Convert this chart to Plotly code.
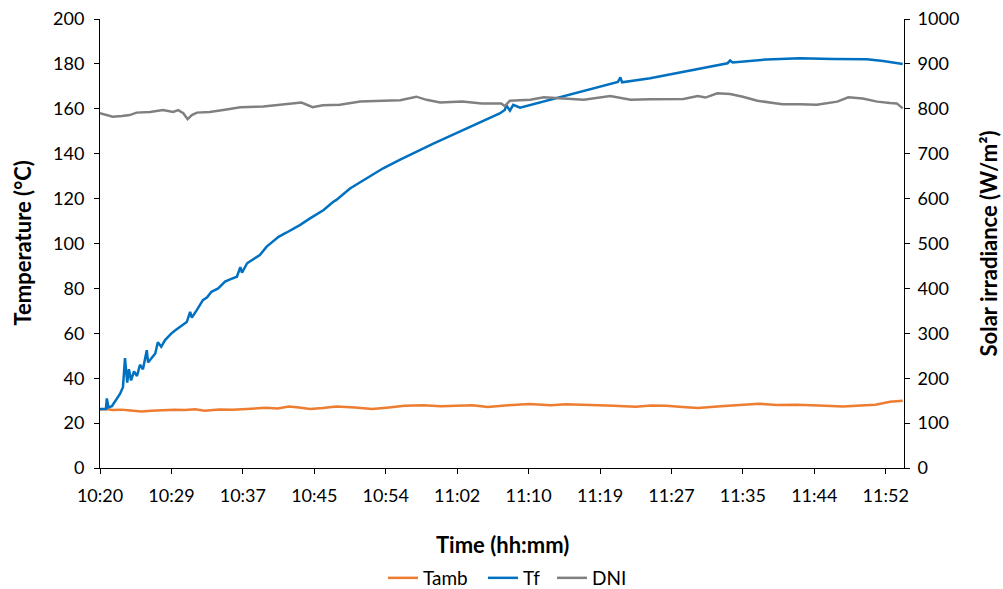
import plotly.graph_objects as go

# Time in minutes after 10:20 (approx. start 10:20:30)
tick_text = ["10:20", "10:29", "10:37", "10:45", "10:54", "11:02",
             "11:10", "11:19", "11:27", "11:35", "11:44", "11:52"]
tick_step_min = 8.4

tf_time = [0, 0.7, 0.8, 1.0, 1.4, 2.0, 2.35, 2.7, 2.94, 3.2, 3.4, 3.65, 4.0, 4.35, 4.7,
           5.05, 5.5, 5.65, 6.0, 6.5, 6.8, 7.2, 7.65, 8.4, 8.9, 9.4, 10.2, 10.6, 10.8,
           11.4, 12.1, 12.6, 13.1, 13.9, 14.7, 15.3, 16.1, 16.5, 16.7, 17.3, 18.0, 18.8,
           19.6, 20.2, 21.0, 21.9, 22.9, 23.5, 24.7, 26.3, 27.4, 27.8, 29.4, 31.4, 33.3,
           35.3, 37.2, 39.2, 41.2, 43.1, 45.0, 47.0, 47.6, 47.8, 48.2, 48.6, 49.4, 50.9,
           53.3, 55.9, 58.4, 60.9, 61.2, 61.4, 64.7, 68.6, 71.7, 73.8, 74.1, 74.4, 78.4,
           82.3, 86.2, 90.2, 92.1, 94.4]
tf_vals = [26.3, 26.3, 31, 27, 27.5, 31, 33, 36, 49, 38, 44, 39, 43, 41, 46,
           44, 52.5, 47, 48.5, 51, 56, 54, 57, 60, 61.5, 63, 65, 69.5, 67,
           70.4, 74.8, 76, 78.5, 80, 83, 84, 85.2, 89.5, 87, 91.2, 93, 94.9,
           98.6, 100.5, 103, 104.8, 106.8, 108.2, 111.2, 114.9, 118.5, 119.4, 124.5, 129, 133.5,
           137.4, 141, 144.5, 147.9, 151.2, 154.6, 157.9, 159.5, 161.5, 159.2, 161.8, 160.5, 162,
           164.2, 166.7, 169.5, 172, 174, 171.8, 173.6, 176.5, 178.8, 180.3, 181.5, 180.6, 182,
           182.5, 182.2, 182.1, 181.3, 180]

dni_time = [0, 0.7, 1.5, 2.6, 3.5, 4.3, 5.9, 7.4, 8.2, 8.6, 9.2, 9.8, 10.3, 10.8, 11.4,
            12.9, 14.5, 16.5, 19.2, 22.3, 23.7, 25.0, 26.2, 28.2, 30.6, 33.3, 35.3, 37.2,
            38.4, 40.0, 42.6, 44.9, 47.2, 47.6, 48.2, 50.6, 52.2, 54.5, 56.9, 60.0, 62.4,
            64.7, 66.5, 68.6, 70.3, 71.2, 72.6, 74.1, 75.6, 77.3, 79.6, 80.3, 82.3, 84.3,
            86.7, 88.0, 89.7, 91.4, 92.9, 93.7, 94.4]
dni_vals = [790, 786, 782.5, 784, 786, 791.5, 793, 797.5, 795, 793, 797, 790, 777, 786, 791.5,
            793, 797.5, 803.5, 805, 811, 814, 803.5, 808, 809, 816, 818, 819, 827,
            820, 814, 816, 812, 812, 806, 818, 820, 825.5, 823, 820, 828.5, 820,
            821, 822, 822, 828.5, 825, 834.5, 833, 827, 818, 812, 810, 810, 809,
            816, 825.5, 823, 816, 813, 812, 801]

tamb_time = [0, 0.7, 1.5, 2.5, 3.6, 4.9, 6.0, 7.3, 8.7, 10.0, 11.2, 12.3, 14.0, 15.6, 17.3,
             19.5, 20.9, 22.2, 23.4, 24.7, 26.2, 27.8, 30.0, 32.0, 34.0, 35.8, 38.0, 40.1,
             41.9, 43.8, 45.6, 48.0, 50.5, 53.0, 54.8, 56.7, 58.6, 60.4, 63.0, 64.8, 66.6,
             68.5, 70.3, 73.0, 75.2, 77.5, 79.6, 81.9, 84.5, 87.4, 90.0, 91.2, 92.9, 94.4]
tamb_vals = [26.0, 26.3, 25.8, 26.0, 25.6, 25.2, 25.5, 25.9, 26.0, 25.8, 26.2, 25.5, 26.1, 25.9, 26.3,
             26.8, 26.5, 27.4, 26.9, 26.3, 26.7, 27.4, 27.0, 26.3, 27.0, 27.7, 28.0, 27.5,
             27.7, 27.9, 27.2, 28.0, 28.5, 28.0, 28.4, 28.3, 28.0, 27.7, 27.3, 27.8, 27.7,
             27.2, 26.7, 27.5, 27.9, 28.6, 28.1, 28.2, 27.8, 27.4, 28.0, 28.2, 29.5, 30.0]

tick_vals = [i * tick_step_min for i in range(len(tick_text))]

FONT = "Lato"
fig = go.Figure()
fig.add_trace(go.Scatter(x=tamb_time, y=tamb_vals, name="Tamb", mode="lines", legend="legend",
                         line=dict(color="#ED7D31", width=2.5)))
fig.add_trace(go.Scatter(x=tf_time, y=tf_vals, name="Tf", mode="lines", legend="legend2",
                         line=dict(color="#0070C0", width=2.5)))
fig.add_trace(go.Scatter(x=dni_time, y=dni_vals, name="DNI", mode="lines", yaxis="y2",
                         legend="legend3", line=dict(color="#808080", width=2.5)))

axis_common = dict(showgrid=False, zeroline=False, showline=True, linecolor="#000000",
                   linewidth=1, ticks="outside", ticklen=5, tickcolor="#000000",
                   automargin=False,
                   tickfont=dict(family=FONT, size=18, color="#000000"))

L, R, T, B = 100, 99, 19, 121
W, H = 1003, 589
plot_w = W - L - R
plot_h = H - T - B


def legend_at(px_left):
    return dict(orientation="h", x=(px_left - L) / plot_w, xanchor="left",
                yref="container", y=1 - 578 / H, yanchor="middle",
                font=dict(family=FONT, size=19), itemwidth=30, tracegroupgap=0,
                bgcolor="rgba(0,0,0,0)")


fig.update_layout(
    width=W, height=H,
    margin=dict(l=L, r=R, t=T, b=B, autoexpand=False),
    plot_bgcolor="white", paper_bgcolor="white",
    font=dict(family=FONT, size=18, color="#000000"),
    xaxis=dict(range=[0, 94.55], tickvals=tick_vals, ticktext=tick_text,
               ticklabelstandoff=6, **axis_common),
    yaxis=dict(range=[0, 200], dtick=20, ticklabelstandoff=6, **axis_common),
    yaxis2=dict(range=[0, 1000], dtick=100, overlaying="y", side="right",
                ticklabelstandoff=4, **axis_common),
    showlegend=True,
    legend=legend_at(383),
    legend2=legend_at(483),
    legend3=legend_at(552),
    annotations=[
        dict(text="<b>Time (hh:mm)</b>", xref="paper", yref="paper", x=0.5,
             y=-(544 - (H - B)) / plot_h,
             xanchor="center", yanchor="middle", showarrow=False,
             font=dict(family=FONT, size=22)),
        dict(text="<b>Temperature (°C)</b>", xref="paper", yref="paper",
             x=(22 - L) / plot_w, y=0.5, showarrow=False, textangle=-90,
             xanchor="center", yanchor="middle", font=dict(family=FONT, size=22)),
        dict(text="<b>Solar irradiance (W/m²)</b>", xref="paper", yref="paper",
             x=(988 - L) / plot_w, y=0.5, showarrow=False, textangle=-90,
             xanchor="center", yanchor="middle", font=dict(family=FONT, size=22)),
    ],
)

fig.write_html("out.html")
